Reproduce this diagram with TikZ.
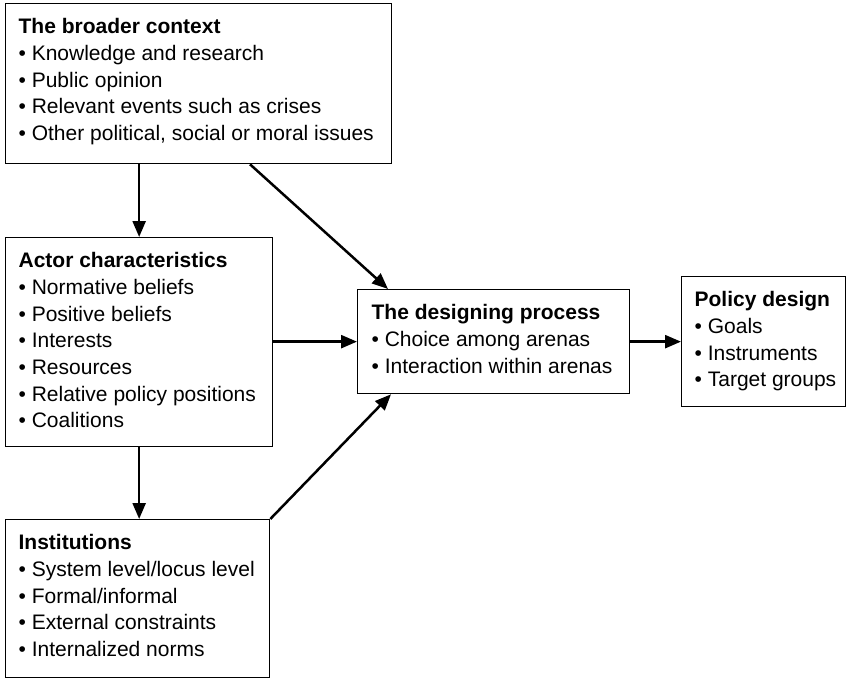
\documentclass[tikz,border=0pt]{standalone}
\usepackage{fontspec}
\setmainfont{Liberation Sans}
\usetikzlibrary{arrows.meta}

% Box contents: width, height, bold heading, bullet lines
\newcommand{\boxbody}[5][13pt]{%
  \parbox[c][#3][t]{#2}{%
    \fontsize{21pt}{26.7pt}\selectfont
    \leftskip=#1\relax\rightskip=0pt plus 1fil\relax\parindent=0pt
    \rule{0pt}{30pt}\textbf{#4}\\#5}}

\tikzset{
  panel/.style={draw, line width=1.3pt, rectangle, inner sep=0pt, anchor=north west},
  flow/.style={draw, line width=2.5pt, -{Triangle[length=16pt,width=13pt]}}
}

\begin{document}
\begin{tikzpicture}[x=1pt, y=-1pt]
  \useasboundingbox (0,0) rectangle (848,679);

  \node[panel] (ctx) at (5,3)
    {\boxbody{386pt}{160pt}{The broader context}{%
      • Knowledge and research\\
      • Public opinion\\
      • Relevant events such as crises\\
      • Other political, social or moral issues}};

  \node[panel] (actor) at (5,237)
    {\boxbody{267pt}{209pt}{Actor characteristics}{%
      • Normative beliefs\\
      • Positive beliefs\\
      • Interests\\
      • Resources\\
      • Relative policy positions\\
      • Coalitions}};

  \node[panel] (inst) at (5,519)
    {\boxbody{264pt}{158pt}{Institutions}{%
      • System level/locus level\\
      • Formal/informal\\
      • External constraints\\
      • Internalized norms}};

  \node[panel] (design) at (357,289)
    {\boxbody[14pt]{272pt}{104pt}{The designing process}{%
      • Choice among arenas\\
      • Interaction within arenas}};

  \node[panel] (policy) at (681,276)
    {\boxbody{164pt}{130pt}{Policy design}{%
      • Goals\\
      • Instruments\\
      • Target groups}};

  % connectors
  \draw[flow] (actor.north |- ctx.south) -- (actor.north);
  \draw[flow] ([xshift=245pt]ctx.south west) -- ([xshift=31pt]design.north west);
  \draw[flow] (actor.east |- design.west) -- (design.west);
  \draw[flow] (actor.south) -- (actor.south |- inst.north);
  \draw[flow] (inst.north east) -- ([xshift=34pt]design.south west);
  \draw[flow] (design.east) -- (design.east -| policy.west);
\end{tikzpicture}
\end{document}
